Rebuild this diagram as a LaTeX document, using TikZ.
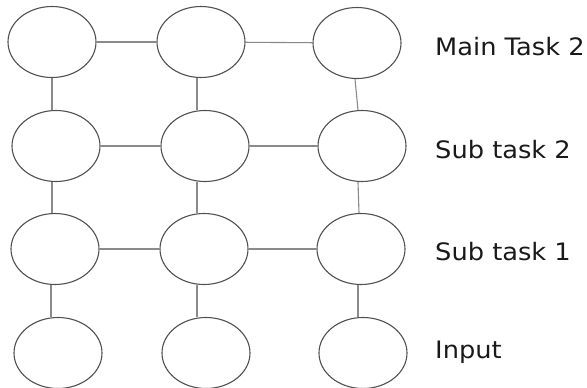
\documentclass[tikz,border=0pt]{standalone}
\usepackage{fontspec}
\setmainfont{DejaVu Sans}
\usetikzlibrary{shapes.geometric}
\definecolor{ringcol}{HTML}{505050}
\definecolor{linkcol}{HTML}{8A8A8A}
\begin{document}
\begin{tikzpicture}[x=1pt,y=-1pt,
  unit/.style={ellipse,draw=ringcol,line width=1.1pt,minimum width=88pt,minimum height=71pt,inner sep=0pt},
  link/.style={draw=linkcol,line width=1.1pt},
  lbl/.style={anchor=base west,inner sep=0pt,font=\fontsize{24}{28}\selectfont,text=black!90,xscale=1.07}]
\useasboundingbox (0,0) rectangle (587,388);
% row 1
\node[unit] (a1) at (52,42) {};
\node[unit] (a2) at (201,42) {};
\node[unit] (a3) at (357,43) {};
% row 2
\node[unit] (b1) at (56,146) {};
\node[unit] (b2) at (205,146) {};
\node[unit] (b3) at (362,146) {};
% row 3
\node[unit] (c1) at (55,249) {};
\node[unit] (c2) at (204,249) {};
\node[unit] (c3) at (361,249) {};
% row 4
\node[unit] (d1) at (58,353) {};
\node[unit] (d2) at (206,353) {};
\node[unit] (d3) at (363,353) {};
% column lines x positions
\coordinate (k1) at (52,0);
\coordinate (k1b) at (51,0);
\coordinate (k2) at (197,0);
\coordinate (k3a) at (355,0);
\coordinate (k3b) at (358,0);
\coordinate (k3c) at (359,0);
% horizontal links
\path[link] (a1) -- (a2);
\path[link] (a2) -- (a3);
\path[link] (b1) -- (b2);
\path[link] (b2) -- (b3);
\path[link] (c1) -- (c2);
\path[link] (c2) -- (c3);
% vertical links
\path[link] (a1.south -| k1) -- (b1.north -| k1);
\path[link] (b1.south -| k1) -- (c1.north -| k1);
\path[link] (c1.south -| k1b) -- (d1.north -| k1b);
\path[link] (a2.south -| k2) -- (b2.north -| k2);
\path[link] (b2.south -| k2) -- (c2.north -| k2);
\path[link] (c2.south -| k2) -- (d2.north -| k2);
\path[link] (a3.south -| k3a) -- (b3.north -| k3b);
\path[link] (b3.south -| k3b) -- (c3.north -| k3c);
\path[link] (c3.south -| k3b) -- (d3.north -| k3b);
% labels
\node[lbl] (l1) at (435,56) {Main Task 2};
\node[lbl] (l2) at (435,158) {Sub task 2};
\node[lbl] (l3) at (435,260) {Sub task 1};
\node[lbl] (l4) at (435,358) {Input};
\end{tikzpicture}
\end{document}
